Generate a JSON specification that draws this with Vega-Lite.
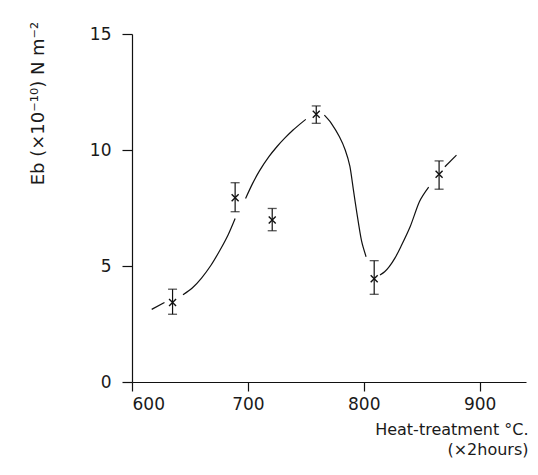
{
  "$schema": "https://vega.github.io/schema/vega-lite/v6.json",
  "autosize": "none",
  "padding": {"left": 132, "top": 34, "right": 12, "bottom": 93},
  "width": 394,
  "height": 348,
  "background": "white",
  "config": {
    "view": {"stroke": null},
    "font": "DejaVu Sans",
    "axis": {
      "grid": false,
      "domainColor": "#111",
      "domainWidth": 1.2,
      "tickColor": "#111",
      "tickWidth": 1.2,
      "labelFont": "DejaVu Sans",
      "labelFontSize": 17,
      "labelColor": "#1a1a1a",
      "titleFont": "DejaVu Sans",
      "titleFontWeight": "normal",
      "titleColor": "#1a1a1a"
    }
  },
  "datasets": {
    "measurements": [
      {"temp": 635, "eb": 3.43, "lo": 2.92, "hi": 4.0},
      {"temp": 689, "eb": 7.94, "lo": 7.34, "hi": 8.59},
      {"temp": 721, "eb": 6.98, "lo": 6.52, "hi": 7.48},
      {"temp": 759, "eb": 11.54, "lo": 11.15, "hi": 11.9},
      {"temp": 809, "eb": 4.45, "lo": 3.78, "hi": 5.23},
      {"temp": 865, "eb": 8.95, "lo": 8.31, "hi": 9.53}
    ],
    "curve": [
      {"seg": 1, "temp": 617, "eb": 3.13},
      {"seg": 1, "temp": 628, "eb": 3.43},
      {"seg": 2, "temp": 644, "eb": 3.76},
      {"seg": 2, "temp": 652, "eb": 4.05},
      {"seg": 2, "temp": 660, "eb": 4.48},
      {"seg": 2, "temp": 668, "eb": 5.02},
      {"seg": 2, "temp": 676, "eb": 5.69},
      {"seg": 2, "temp": 683, "eb": 6.35},
      {"seg": 2, "temp": 689, "eb": 7.05},
      {"seg": 3, "temp": 698, "eb": 7.91},
      {"seg": 3, "temp": 704, "eb": 8.55},
      {"seg": 3, "temp": 710, "eb": 9.1},
      {"seg": 3, "temp": 718, "eb": 9.7},
      {"seg": 3, "temp": 725, "eb": 10.14},
      {"seg": 3, "temp": 732, "eb": 10.52},
      {"seg": 3, "temp": 739, "eb": 10.86},
      {"seg": 3, "temp": 746, "eb": 11.16},
      {"seg": 3, "temp": 750, "eb": 11.32},
      {"seg": 4, "temp": 766, "eb": 11.5},
      {"seg": 4, "temp": 772, "eb": 11.15},
      {"seg": 4, "temp": 779, "eb": 10.57},
      {"seg": 4, "temp": 784, "eb": 10.0},
      {"seg": 4, "temp": 788, "eb": 9.3},
      {"seg": 4, "temp": 791, "eb": 8.3},
      {"seg": 4, "temp": 794, "eb": 7.3},
      {"seg": 4, "temp": 798, "eb": 6.1},
      {"seg": 4, "temp": 802, "eb": 5.4},
      {"seg": 5, "temp": 814, "eb": 4.61},
      {"seg": 5, "temp": 818, "eb": 4.75},
      {"seg": 5, "temp": 822, "eb": 4.97},
      {"seg": 5, "temp": 827, "eb": 5.35},
      {"seg": 5, "temp": 832, "eb": 5.83},
      {"seg": 5, "temp": 840, "eb": 6.69},
      {"seg": 5, "temp": 848, "eb": 7.77},
      {"seg": 5, "temp": 856, "eb": 8.4},
      {"seg": 6, "temp": 870, "eb": 9.28},
      {"seg": 6, "temp": 880, "eb": 9.78}
    ]
  },
  "encoding": {
    "x": {
      "field": "temp",
      "type": "quantitative",
      "scale": {"domain": [600, 940], "nice": false, "zero": false},
      "axis": {
        "values": [600, 700, 800, 900],
        "tickSize": 9,
        "labelPadding": 5,
        "title": ["Heat-treatment °C.", "(×2hours)"],
        "titleFontSize": 16,
        "titleLineHeight": 20,
        "titleAnchor": "end",
        "titleAlign": "right",
        "titleBaseline": "top",
        "titleX": 396,
        "titleY": 39
      }
    },
    "y": {
      "field": "eb",
      "type": "quantitative",
      "scale": {"domain": [0, 15], "nice": false},
      "axis": {
        "values": [0, 5, 10, 15],
        "tickSize": 10,
        "labelPadding": 11,
        "title": "Eb (×10⁻¹⁰)  N  m⁻²",
        "titleFontSize": 18,
        "titleAngle": 270,
        "titleAlign": "center",
        "titleBaseline": "alphabetic",
        "titleX": -89,
        "titleY": 69
      }
    }
  },
  "layer": [
    {
      "data": {"name": "curve"},
      "mark": {"type": "line", "interpolate": "cardinal", "tension": 0.2, "color": "#111", "strokeWidth": 1.2},
      "encoding": {"detail": {"field": "seg", "type": "nominal"}}
    },
    {
      "data": {"name": "measurements"},
      "mark": {"type": "rule", "color": "#111", "strokeWidth": 1.2},
      "encoding": {
        "y": {"field": "lo", "type": "quantitative"},
        "y2": {"field": "hi"}
      }
    },
    {
      "data": {"name": "measurements"},
      "mark": {"type": "tick", "orient": "horizontal", "color": "#111", "size": 9, "thickness": 1.3},
      "encoding": {"y": {"field": "lo", "type": "quantitative"}}
    },
    {
      "data": {"name": "measurements"},
      "mark": {"type": "tick", "orient": "horizontal", "color": "#111", "size": 9, "thickness": 1.3},
      "encoding": {"y": {"field": "hi", "type": "quantitative"}}
    },
    {
      "data": {"name": "measurements"},
      "mark": {
        "type": "point",
        "shape": "M-1,-1L1,1M1,-1L-1,1",
        "filled": false,
        "color": "#111",
        "strokeWidth": 1.4,
        "size": 49,
        "opacity": 1
      },
      "encoding": {}
    }
  ]
}
